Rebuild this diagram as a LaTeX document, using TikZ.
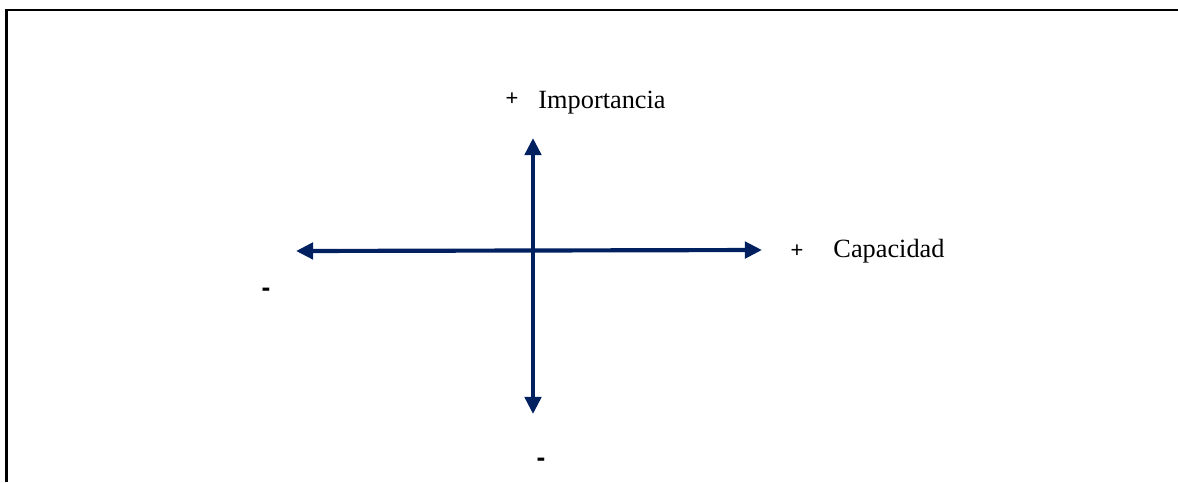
\documentclass[tikz,border=0pt]{standalone}
\usepackage{fontspec}
\setmainfont{Liberation Serif}
\setsansfont{Liberation Sans}
\usetikzlibrary{arrows.meta, positioning}
\definecolor{axisblue}{RGB}{0,32,96}

\begin{document}
\begin{tikzpicture}[
    x=0.456pt, y=-0.456pt,
    axis/.style={draw=axisblue, line width=1.9pt, {Triangle[length=7.8pt, width=7.4pt]}-{Triangle[length=7.8pt, width=7.4pt]}},
    label/.style={inner sep=0pt, font=\fontsize{12}{14}\selectfont},
    sign/.style={inner sep=0pt, font=\sffamily\fontsize{10}{12}\selectfont},
    minus/.style={inner sep=0pt, font=\sffamily\bfseries\fontsize{12}{14}\selectfont}
]
    \useasboundingbox (0,0) rectangle (1178,482);
    \draw[line width=1pt] (6.5,482) -- (6.5,10) -- (1178,10);

    \coordinate (top) at (533,138);
    \coordinate (bottom) at (533,414);
    \coordinate (left) at (296,251);
    \coordinate (right) at (762,250);

    \draw[axis] (bottom) -- (top);
    \draw[axis] (left) -- (right);

    \node[sign] (plusimp) at (512,99) {+};
    \node[label, anchor=base west] (imp) at (538,108) {Importancia};
    \node[sign] (pluscap) at (797,251) {+};
    \node[label, anchor=base west] (cap) at (833,257) {Capacidad};
    \node[minus] (minusleft) at (266,292) {-};
    \node[minus] (minusbottom) at (541,462) {-};
\end{tikzpicture}
\end{document}
